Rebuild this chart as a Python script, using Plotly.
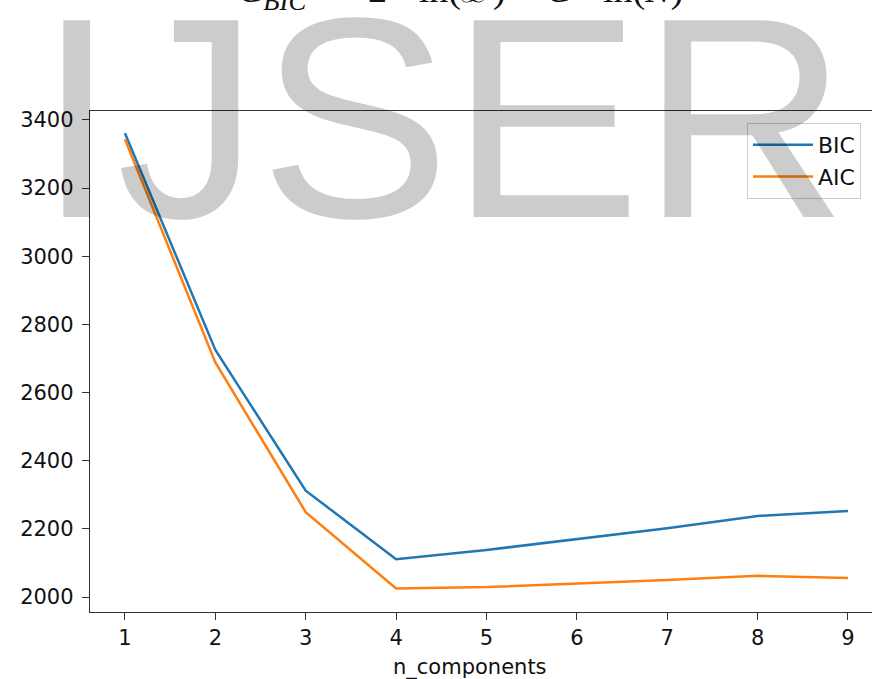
import plotly.graph_objects as go

n_components = [1, 2, 3, 4, 5, 6, 7, 8, 9]
bic = [3361, 2725, 2312, 2111, 2138, 2169, 2202, 2238, 2252]
aic = [3343, 2688, 2249, 2025, 2029, 2039, 2050, 2062, 2056]
y_ticks = [2000, 2200, 2400, 2600, 2800, 3000, 3200, 3400]

W, H = 872, 679
L, R, T, B = 90, 0, 111, 67
pw, ph = W - L - R, H - T - B

def px(x):
    return (x - L) / pw

def py(y):
    return (H - B - y) / ph

fig = go.Figure()
fig.add_trace(go.Scatter(x=n_components, y=bic, mode="lines", name="BIC",
                         line=dict(color="#1f77b4", width=2.5), legendgroup="b"))
fig.add_trace(go.Scatter(x=n_components, y=aic, mode="lines", name="AIC",
                         line=dict(color="#ff7f0e", width=2.5), legendgroup="a"))

axis_font = dict(family="DejaVu Sans", size=21, color="#111111")
fig.update_layout(
    width=W, height=H,
    margin=dict(l=L, r=R, t=T, b=B),
    paper_bgcolor="white", plot_bgcolor="white",
    showlegend=True,
    legend=dict(x=px(747), y=py(123), xanchor="left", yanchor="top",
                bgcolor="rgba(255,255,255,0.8)", bordercolor="#cccccc", borderwidth=1,
                font=dict(family="DejaVu Sans", size=22, color="#111111"),
                tracegroupgap=5, traceorder="normal", itemwidth=60),
    xaxis=dict(range=[0.613, 9.266], tickmode="array", tickvals=n_components,
               ticktext=[str(v) for v in n_components],
               showgrid=False, zeroline=False, showline=True, linecolor="#333333",
               linewidth=1.4, mirror=True, ticks="outside", ticklen=7, tickwidth=1.3,
               tickcolor="#333333", tickfont=axis_font),
    yaxis=dict(range=[1956, 3426], tickmode="array", tickvals=y_ticks,
               ticktext=[str(v) for v in y_ticks],
               showgrid=False, zeroline=False, showline=True, linecolor="#333333",
               linewidth=1.4, ticks="outside", ticklen=7, tickwidth=1.3,
               tickcolor="#333333", tickfont=axis_font, ticklabelstandoff=4),
)

# x axis title
fig.add_annotation(text="n_components", xref="paper", yref="paper",
                   x=px(470), y=py(667), xanchor="center", yanchor="middle",
                   showarrow=False, font=dict(family="DejaVu Sans", size=21, color="#111111"))

# formula at top (mostly cut off)
fig.add_annotation(text="<i>C</i><sub><i>BIC</i></sub> = −2 · ln(<i>ℒ̂</i>) + <i>C</i> · ln(<i>N</i>)",
                   xref="paper", yref="paper", x=px(236), y=py(18), xanchor="left", yanchor="bottom",
                   showarrow=False, font=dict(family="Liberation Serif", size=38, color="#111111"))

# watermark
fig.add_annotation(text="IJSER", xref="paper", yref="paper",
                   x=px(442), y=py(118), xanchor="center", yanchor="middle",
                   showarrow=False, font=dict(family="Liberation Sans", size=286, color="rgba(0,0,0,0.2)"))

fig.write_html("out.html")
